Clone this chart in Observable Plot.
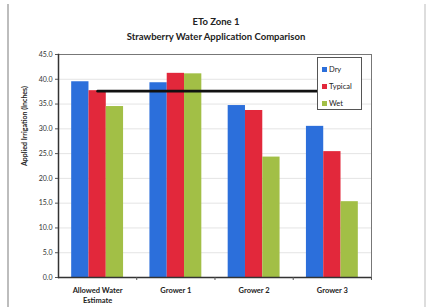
<!DOCTYPE html>
<html>
<head>
<meta charset="utf-8">
<script src="https://cdn.jsdelivr.net/npm/d3@7"></script>
<script src="https://cdn.jsdelivr.net/npm/@observablehq/plot@0.6"></script>
<style>
  html, body { margin: 0; padding: 0; background: #fff; }
  #wrap { position: relative; width: 426px; height: 307px; overflow: hidden; font-family: Lato, "Open Sans", sans-serif; }
  #title { padding-top: 14px; text-align: center; font-weight: bold; font-size: 9.5px; line-height: 15px; color: #222; width: 432px; }
  #chart svg { display: block; }
  #legend { position: absolute; left: 317px; top: 57px; width: 45px; height: 53px; border: 1px solid #555; background: #fff; box-sizing: border-box; padding: 3px 0 0 4px; font-size: 7.5px; color: #222; }
  #legend .item { height: 17px; line-height: 11px; display: flex; align-items: center; }
  #legend .sw { width: 5px; height: 5px; margin-right: 2px; }
  .edge { position: absolute; top: 4px; bottom: 0; width: 2px; background: #bdbdbd; }
</style>
</head>
<body>
<div id="wrap">
  <div class="edge" style="left:7px"></div>
  <div class="edge" style="left:424px;background:#ddd"></div>
  <div id="title"><div>ETo Zone 1</div><div>Strawberry Water Application Comparison</div></div>
  <div id="chart"></div>
  <div id="legend"></div>
</div>
<script>
const categories = ["Allowed Water\nEstimate", "Grower 1", "Grower 2", "Grower 3"];
const seriesNames = ["Dry", "Typical", "Wet"];
const seriesColors = ["#2c6fdb", "#e2283b", "#a2bf46"];
const dryValues = [39.5, 39.3, 34.7, 30.5];
const typicalValues = [37.7, 41.2, 33.7, 25.4];
const wetValues = [34.5, 41.1, 24.3, 15.3];
const allowedLine = [37.6, 37.6, 37.6, 37.6];
const yTicks = [0, 5, 10, 15, 20, 25, 30, 35, 40, 45];

const seriesValues = [dryValues, typicalValues, wetValues];
const rows = [];
seriesNames.forEach((s, i) => categories.forEach((c, j) => rows.push({category: c, series: s, value: seriesValues[i][j]})));
const lineRows = categories.map((c, j) => ({category: c, value: allowedLine[j]}));

const barW = 17.3;
const offsets = {Dry: -barW, Typical: 0, Wet: barW};

const plot = Plot.plot({
  width: 426,
  height: 263,
  marginLeft: 58,
  marginRight: 55,
  marginTop: 10,
  marginBottom: 30,
  style: {fontFamily: "Lato, 'Open Sans', sans-serif", fontSize: "7px", color: "#333", background: "#fff"},
  x: {domain: categories, paddingInner: 0.779, paddingOuter: 0.3895, round: false, axis: null},
  y: {domain: [0, 45], axis: null},
  color: {domain: seriesNames, range: seriesColors},
  marks: [
    Plot.gridY(yTicks, {stroke: "#e4e4e4", strokeOpacity: 1}),
    ...seriesNames.map(s => Plot.barY(rows.filter(d => d.series === s), {x: "category", y: "value", fill: "series", dx: offsets[s]})),
    Plot.lineY(lineRows, {x: "category", y: "value", stroke: "#111", strokeWidth: 2.6}),
    Plot.frame({stroke: "#777"}),
    Plot.frame({anchor: "left", stroke: "#333", strokeWidth: 1.5}),
    Plot.ruleY([0], {stroke: "#333", strokeWidth: 1.5}),
    Plot.axisY(yTicks, {tickSize: 3, tickFormat: d3.format(".1f"), tickPadding: 3, label: null, fontSize: 7, stroke: "#555"}),
    Plot.axisX({tickSize: 0, tickPadding: 9, label: null, fontSize: 7.5, fontWeight: "bold", lineHeight: 1.3, fill: "#222"}),
    Plot.ruleX(categories, {x: d => d, y1: 0, y2: -0.6, dx: 39.1, stroke: "#555"}),
    Plot.text(["Applied Irrigation (Inches)"], {frameAnchor: "left", rotate: -90, dx: -34, fontWeight: "bold", fontSize: 7, fill: "#222"})
  ]
});
document.getElementById("chart").appendChild(plot);
const legend = document.getElementById("legend");
seriesNames.forEach((s, i) => {
  const it = document.createElement("div");
  it.className = "item";
  it.innerHTML = `<span class="sw" style="background:${seriesColors[i]}"></span><span>${s}</span>`;
  legend.appendChild(it);
});
</script>
</body>
</html>
